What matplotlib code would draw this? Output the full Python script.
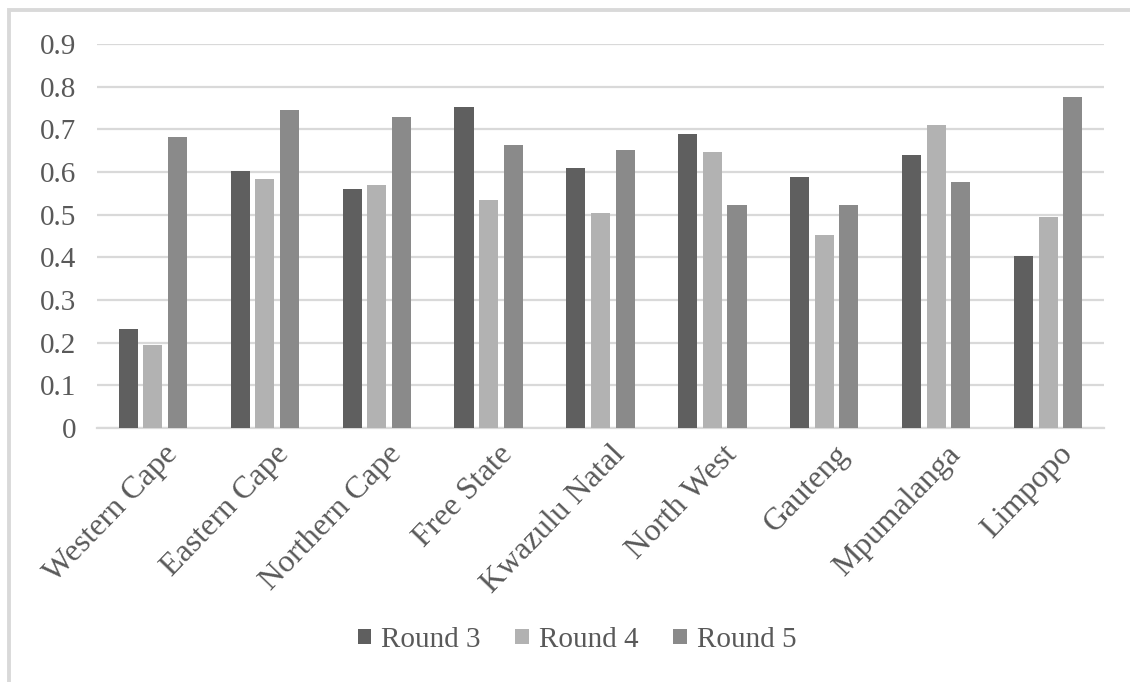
import matplotlib
matplotlib.use("Agg")
import matplotlib.pyplot as plt
from matplotlib.patches import Rectangle, Patch
import matplotlib.transforms as mtransforms
import numpy as np

provinces = ["Western Cape", "Eastern Cape", "Northern Cape", "Free State",
             "Kwazulu Natal", "North West", "Gauteng", "Mpumalanga", "Limpopo"]
round3 = [0.231, 0.602, 0.559, 0.752, 0.609, 0.688, 0.588, 0.639, 0.402]
round4 = [0.194, 0.583, 0.569, 0.534, 0.503, 0.646, 0.452, 0.709, 0.494]
round5 = [0.681, 0.745, 0.728, 0.663, 0.651, 0.522, 0.522, 0.576, 0.775]
series_names = ["Round 3", "Round 4", "Round 5"]
y_ticks = [0, 0.1, 0.2, 0.3, 0.4, 0.5, 0.6, 0.7, 0.8, 0.9]
y_tick_labels = ["0", "0.1", "0.2", "0.3", "0.4", "0.5", "0.6", "0.7", "0.8", "0.9"]

colors = ["#5f5f5f", "#b2b2b2", "#8a8a8a"]
text_color = "#595959"
grid_color = "#d9d9d9"
serif = ["Liberation Serif", "DejaVu Serif"]

W, H = 1130, 682
fig = plt.figure(figsize=(W / 100, H / 100), dpi=100)

# outer chart-area frame (only top and left edges fall inside the canvas)
fig.patches.append(Rectangle((8.5 / W, -0.1), 1.2, (H - 9.5) / H + 0.1,
                             transform=fig.transFigure, fill=False,
                             edgecolor=grid_color, linewidth=2.8))

ax = fig.add_axes([97 / W, (H - 428) / H, (1104 - 97) / W, (428 - 44) / H])

x = np.arange(len(provinces))
width = 0.17
step = 0.22
for i, (vals, name) in enumerate(zip([round3, round4, round5], series_names)):
    ax.bar(x + (i - 1) * step, vals, width, color=colors[i], label=name, zorder=3)

ax.set_xlim(-0.5, len(provinces) - 0.5)
ax.set_ylim(0, 0.9)
ax.set_yticks(y_ticks)
ax.set_yticklabels(y_tick_labels, family=serif, fontsize=21, color=text_color)
ax.yaxis.grid(True, color=grid_color, linewidth=1.6, zorder=0)
ax.tick_params(axis="y", length=0, pad=15)
ax.tick_params(axis="x", length=0, pad=0)
for s in ["top", "right", "left"]:
    ax.spines[s].set_visible(False)
ax.spines["bottom"].set_color(grid_color)
ax.spines["bottom"].set_linewidth(1.6)

ax.set_xticks(x)
ax.set_xticklabels(provinces, rotation=46, ha="right", va="center",
                   rotation_mode="anchor", family=serif, fontsize=23,
                   color=text_color)
offset = mtransforms.ScaledTranslation(20 / 100, -22 / 100, fig.dpi_scale_trans)
for lbl in ax.get_xticklabels():
    lbl.set_transform(lbl.get_transform() + offset)

handles = [Patch(facecolor=c, edgecolor="none") for c in colors]
leg = fig.legend(handles, series_names, loc="center", bbox_to_anchor=(577 / W, 1 - 640 / H),
                 ncol=3, frameon=False, prop={"family": serif, "size": 21},
                 handlelength=0.45, handleheight=0.45, handletextpad=0.35,
                 columnspacing=1.2)
for t in leg.get_texts():
    t.set_color(text_color)

fig.savefig("out.png", dpi=100)
